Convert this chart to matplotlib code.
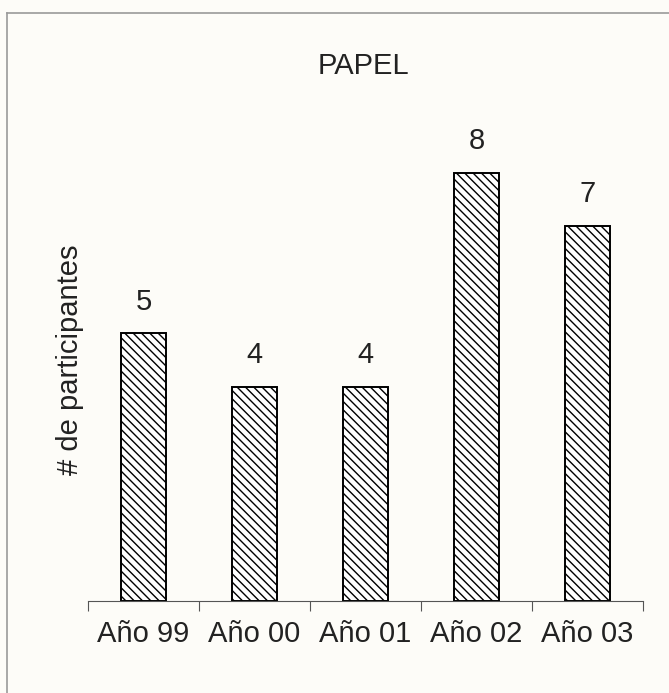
import numpy as np
import matplotlib.pyplot as plt
from matplotlib.lines import Line2D

plt.rcParams['font.family'] = ['Liberation Sans', 'DejaVu Sans']
plt.rcParams['hatch.linewidth'] = 1.0

# Datos
anios = ['Año 99', 'Año 00', 'Año 01', 'Año 02', 'Año 03']
participantes = [5, 4, 4, 8, 7]

fig = plt.figure(figsize=(6.69, 6.93), dpi=100)
fig.patch.set_facecolor('#fdfcf8')

# marco exterior (solo se ve arriba y a la izquierda)
fig.add_artist(Line2D([7 / 669, 7 / 669], [0, 1 - 13 / 693], color='#9a9a9a', lw=1.2))
fig.add_artist(Line2D([7 / 669, 1], [1 - 13 / 693, 1 - 13 / 693], color='#9a9a9a', lw=1.2))

ax = fig.add_axes([88 / 669, 92 / 693, 555 / 669, 482 / 693])
ax.set_facecolor('none')

x = np.arange(len(anios))
ax.bar(x, participantes, width=0.41, color='white', edgecolor='black',
       linewidth=1.4, hatch='\\\\\\\\')

for xi, v in zip(x, participantes):
    ax.text(xi, v + 0.33, str(v), ha='center', va='bottom', fontsize=21, color='#222222')

ax.set_xlim(-0.5, len(anios) - 0.5)
ax.set_ylim(0, 9)

# marcas del eje x entre categorias
ax.set_xticks(np.arange(-0.5, len(anios)), minor=False)
ax.set_xticklabels([])
ax.set_xticks(x, minor=True)
ax.set_xticklabels(anios, minor=True, fontsize=21, color='#222222')
ax.tick_params(axis='x', which='major', length=7, direction='out', color='#555555', width=0.8)
ax.tick_params(axis='x', which='minor', length=0, pad=14)
ax.set_yticks([])

for s in ['top', 'right', 'left']:
    ax.spines[s].set_visible(False)
ax.spines['bottom'].set_color('#555555')
ax.spines['bottom'].set_linewidth(0.8)

ax.set_ylabel('# de participantes', fontsize=21, color='#222222', labelpad=3)
fig.text(363 / 669, 1 - 66 / 693, 'PAPEL', ha='center', va='center', fontsize=21, color='#222222')

fig.savefig('out.png', dpi=100, facecolor=fig.get_facecolor())
